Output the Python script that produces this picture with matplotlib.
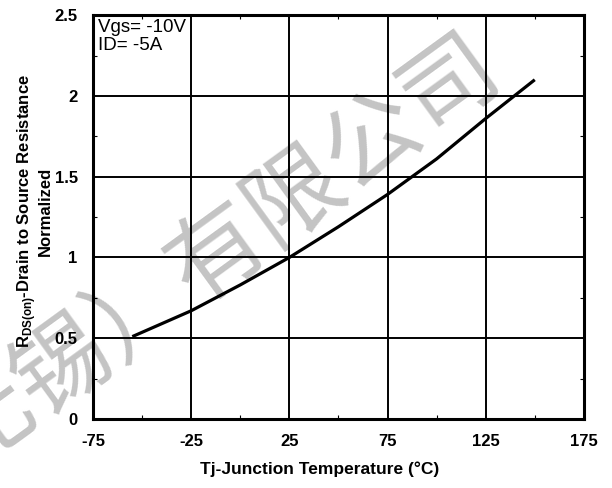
import numpy as np
import matplotlib
matplotlib.use("Agg")
import matplotlib.pyplot as plt

# Normalized Rds(on) vs junction temperature
temps = [-55, -25, 0, 25, 50, 75, 100, 125, 150]
rds_norm = [0.51, 0.67, 0.83, 1.0, 1.19, 1.39, 1.61, 1.86, 2.10]

x_ticks = [-75, -25, 25, 75, 125, 175]
y_ticks = [0, 0.5, 1, 1.5, 2, 2.5]
y_labels = ["0", "0.5", "1", "1.5", "2", "2.5"]
x_minor = [-50, 0, 50, 100, 150]
y_minor = [0.25, 0.75, 1.25, 1.75, 2.25]

conditions = "Vgs= -10V\nID= -5A"
watermark = "无锡）有限公司"

plt.rcParams["font.family"] = ["Liberation Sans", "DejaVu Sans"]
plt.rcParams["axes.unicode_minus"] = False

fig = plt.figure(figsize=(6.12, 4.88), dpi=100)
ax = fig.add_axes([0.152, 0.1414, 0.802, 0.8276])
ax.patch.set_alpha(0)

# faint watermark behind everything (incl. tick labels)
fig.text(0.357, 0.48, watermark, fontsize=69, color="#c4c4c4", rotation=36,
         ha="center", va="center", family=["Noto Sans CJK SC", "DejaVu Sans"],
         zorder=-1)

ax.plot(temps, rds_norm, color="black", lw=2.3, solid_capstyle="butt", zorder=3)

ax.set_xlim(-75, 175)
ax.set_ylim(0, 2.5)
ax.set_xticks(x_ticks)
ax.set_yticks(y_ticks)
ax.set_yticklabels(y_labels)
ax.set_xticks(x_minor, minor=True)
ax.set_yticks(y_minor, minor=True)
ax.grid(True, which="major", color="black", lw=1.4, zorder=2)
ax.tick_params(which="major", length=0)
ax.tick_params(which="minor", direction="in", length=3, width=0.8,
               top=True, right=True)
ax.tick_params(axis="x", which="major", pad=11, labelsize=12)
ax.tick_params(axis="y", which="major", pad=11, labelsize=12)
for lab in ax.get_xticklabels() + ax.get_yticklabels():
    lab.set_fontweight("bold")
for s in ax.spines.values():
    s.set_linewidth(2.2)

ax.text(0.01, 0.99, conditions, transform=ax.transAxes, ha="left", va="top",
        fontsize=13.5, linespacing=1.1)

ax.set_xlabel("Tj-Junction Temperature (\u00b0C)", fontsize=12.5, fontweight="bold")
ax.xaxis.set_label_coords(0.462, -0.105)
ax.set_ylabel("R$_{\\mathregular{DS(on)}}$-Drain to Source Resistance\nNormalized",
              fontsize=12, fontweight="bold", linespacing=1.0)
ax.yaxis.set_label_coords(-0.082, 0.515)

fig.savefig("out.png", dpi=100)
